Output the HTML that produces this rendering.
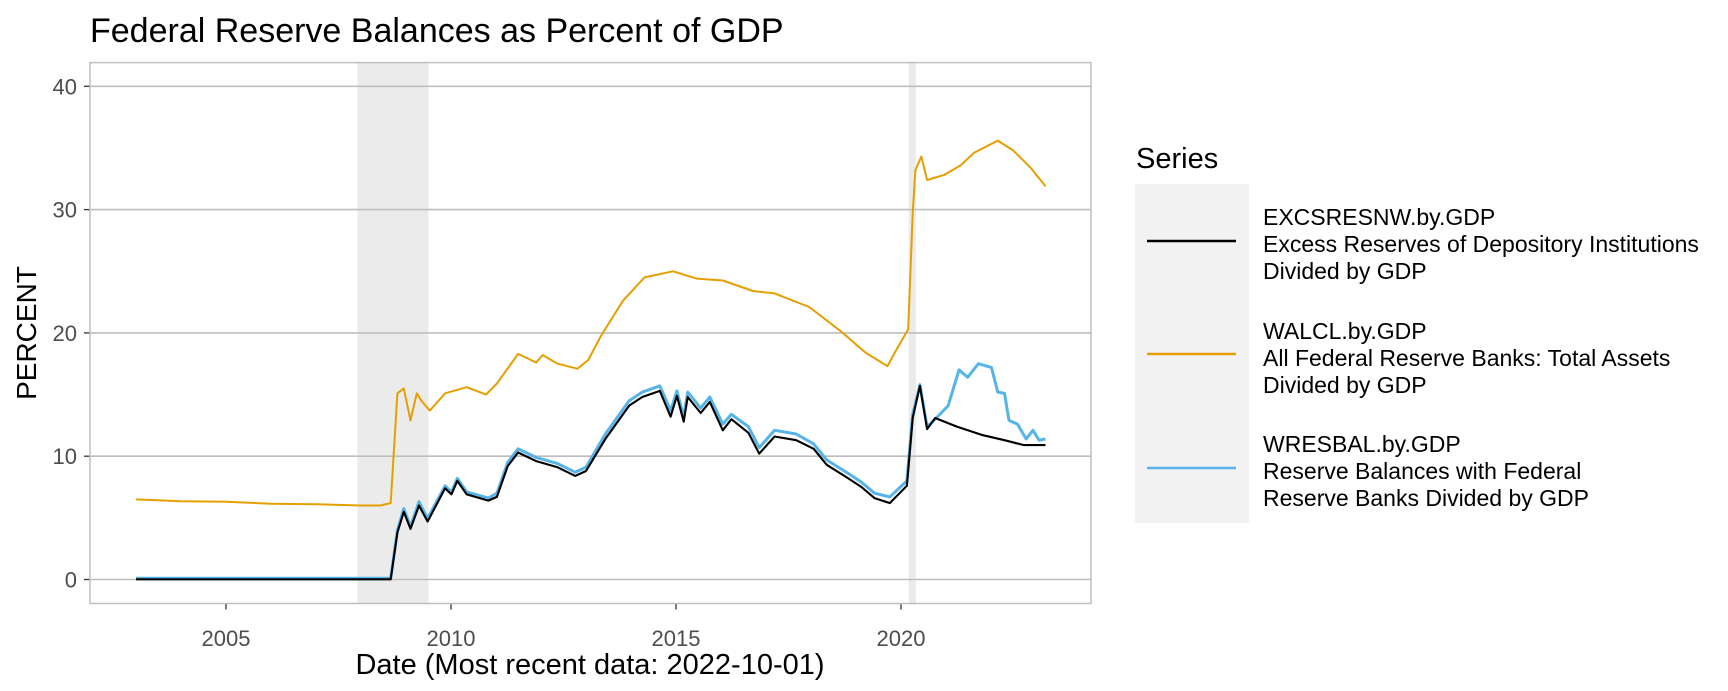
<!DOCTYPE html>
<html><head><meta charset="utf-8"><style>
html,body{margin:0;padding:0;background:#fff;}
svg{display:block;font-family:"Liberation Sans",Arial,sans-serif;}
</style></head><body>
<svg id="chart" width="1728" height="691" viewBox="0 0 1728 691">
<rect width="1728" height="691" fill="#fff"/>
<g id="plot"></g>
</svg>
<script>
const xTicks = [2005, 2010, 2015, 2020];
const yTicks = [0, 10, 20, 30, 40];
const recessions = [[2007.92, 2009.5], [2020.17, 2020.33]];

const walclDates = [2003.0,2004.0,2005.0,2006.0,2007.0,2008.0,2008.42,2008.66,2008.81,2008.95,2009.1,2009.24,2009.34,2009.53,2009.87,2010.35,2010.78,2011.02,2011.49,2011.89,2012.04,2012.37,2012.81,2013.05,2013.34,2013.82,2014.3,2014.93,2015.46,2016.04,2016.71,2017.19,2017.96,2018.64,2019.21,2019.7,2019.89,2020.16,2020.26,2020.32,2020.45,2020.58,2020.95,2021.33,2021.62,2022.15,2022.49,2022.88,2023.21];
const walclVals = [6.5,6.35,6.3,6.15,6.1,6.0,6.0,6.2,15.1,15.5,12.9,15.1,14.5,13.7,15.1,15.6,15.0,15.9,18.3,17.6,18.2,17.5,17.1,17.8,19.8,22.6,24.5,25.0,24.4,24.25,23.4,23.2,22.1,20.2,18.4,17.3,18.6,20.3,29.7,33.2,34.3,32.4,32.8,33.6,34.6,35.6,34.8,33.4,31.9];

const wresDates = [2003.0,2008.66,2008.81,2008.95,2009.1,2009.29,2009.48,2009.87,2010.01,2010.14,2010.35,2010.83,2011.02,2011.26,2011.49,2011.89,2012.37,2012.76,2013.0,2013.43,2013.96,2014.25,2014.64,2014.88,2015.02,2015.17,2015.26,2015.55,2015.75,2016.04,2016.23,2016.61,2016.85,2017.19,2017.67,2018.06,2018.35,2018.83,2019.12,2019.41,2019.75,2020.13,2020.26,2020.42,2020.58,2020.76,2021.05,2021.29,2021.48,2021.72,2022.01,2022.15,2022.3,2022.4,2022.59,2022.78,2022.93,2023.07,2023.21];
const wresVals = [0.1,0.1,4.0,5.75,4.3,6.3,4.95,7.6,7.1,8.2,7.1,6.6,7.0,9.5,10.6,9.9,9.4,8.7,9.1,11.8,14.5,15.2,15.7,13.7,15.3,13.2,15.2,13.9,14.8,12.6,13.4,12.4,10.7,12.1,11.8,11.0,9.7,8.6,7.9,7.0,6.7,8.0,13.4,15.8,12.4,13.0,14.1,17.0,16.4,17.5,17.2,15.2,15.1,12.9,12.6,11.4,12.1,11.3,11.4];

const excsDates = [2003.0,2008.66,2008.81,2008.95,2009.1,2009.29,2009.48,2009.87,2010.01,2010.14,2010.35,2010.83,2011.02,2011.26,2011.49,2011.89,2012.37,2012.76,2013.0,2013.43,2013.96,2014.25,2014.64,2014.88,2015.02,2015.17,2015.26,2015.55,2015.75,2016.04,2016.23,2016.61,2016.85,2017.19,2017.67,2018.06,2018.35,2018.83,2019.12,2019.41,2019.75,2020.13,2020.26,2020.42,2020.58,2020.76,2021.24,2021.82,2022.3,2022.73,2023.21];
const excsVals = [0.02,0.02,3.8,5.5,4.1,6.0,4.7,7.4,6.9,8.0,6.9,6.4,6.7,9.2,10.3,9.6,9.1,8.4,8.8,11.4,14.1,14.8,15.3,13.2,14.9,12.8,14.8,13.5,14.4,12.1,13.0,11.9,10.2,11.6,11.3,10.6,9.3,8.2,7.5,6.6,6.2,7.6,13.1,15.7,12.2,13.1,12.4,11.7,11.3,10.9,10.9];

const L=90,R=1091,T=62.6,B=603.5;
function xs(y){return 226+(y-2005)*45.0;}
function ys(v){return 579.5-v*12.33;}
const NS='http://www.w3.org/2000/svg';
const g=document.getElementById('plot');
function el(tag,attrs,parent){const e=document.createElementNS(NS,tag);for(const k in attrs)e.setAttribute(k,attrs[k]);(parent||g).appendChild(e);return e;}

const rg=el('g',{});


recessions.forEach(r=>{
  const e=el('rect',{x:xs(r[0]),y:T,width:xs(r[1])-xs(r[0]),height:B-T,fill:'#ebebeb'},rg);
  
  
});
yTicks.forEach(v=>{
  const l=el('line',{x1:L,x2:R,y1:ys(v),y2:ys(v),stroke:'#bebebe','stroke-width':1.6});
  
  
  const t=el('line',{x1:L-6,x2:L,y1:ys(v),y2:ys(v),stroke:'#333','stroke-width':1.3});
  
  
  const tx=el('text',{x:L-13,y:ys(v)+8,'text-anchor':'end','font-size':22,fill:'#4d4d4d'});
  tx.textContent=v;
  
  
});
xTicks.forEach(v=>{
  const t=el('line',{x1:xs(v),x2:xs(v),y1:B,y2:B+6,stroke:'#333','stroke-width':1.3});
  
  
  const tx=el('text',{x:xs(v),y:646,'text-anchor':'middle','font-size':22,fill:'#4d4d4d'});
  tx.textContent=v;
  
  
});
function series(dates,vals,color,w,name){
  const d=dates.map((x,i)=>(i?'L':'M')+xs(x).toFixed(1)+','+ys(vals[i]).toFixed(1)).join('');
  const p=el('path',{d:d,fill:'none',stroke:color,'stroke-width':w,'stroke-linejoin':'round'});
  
  
}
series(walclDates,walclVals,'#e69f00',2,'walcl-line');
series(wresDates,wresVals,'#56b4e9',3,'wresbal-line');
series(excsDates,excsVals,'#000000',2.1,'excsresnw-line');
const border=el('rect',{x:L,y:T,width:R-L,height:B-T,fill:'none',stroke:'#bfbfbf','stroke-width':1.5});


</script>
<svg style="position:absolute;left:0;top:0" width="1728" height="691">
<text x="90" y="42" font-size="34" fill="#000">Federal Reserve Balances as Percent of GDP</text>
<text x="590" y="674" font-size="29" text-anchor="middle" fill="#000">Date (Most recent data: 2022-10-01)</text>
<text transform="translate(36,333) rotate(-90)" font-size="28" text-anchor="middle" fill="#000">PERCENT</text>
<g>
<text x="1136" y="168" font-size="29" fill="#000">Series</text>
<rect x="1135" y="184" width="114" height="339" fill="#f2f2f2"/>
<line x1="1147" x2="1236" y1="241" y2="241" stroke="#000" stroke-width="2.4"/>
<line x1="1147" x2="1236" y1="354" y2="354" stroke="#e69f00" stroke-width="2.4"/>
<line x1="1147" x2="1236" y1="468" y2="468" stroke="#56b4e9" stroke-width="2.4"/>
<text font-size="23" fill="#000"><tspan x="1263" y="225">EXCSRESNW.by.GDP</tspan><tspan x="1263" y="252">Excess Reserves of Depository Institutions</tspan><tspan x="1263" y="279">Divided by GDP</tspan></text>
<text font-size="23" fill="#000"><tspan x="1263" y="339">WALCL.by.GDP</tspan><tspan x="1263" y="366">All Federal Reserve Banks: Total Assets</tspan><tspan x="1263" y="393">Divided by GDP</tspan></text>
<text font-size="23" fill="#000"><tspan x="1263" y="452">WRESBAL.by.GDP</tspan><tspan x="1263" y="479">Reserve Balances with Federal</tspan><tspan x="1263" y="506">Reserve Banks Divided by GDP</tspan></text>
</g>
</svg>
</body></html>
